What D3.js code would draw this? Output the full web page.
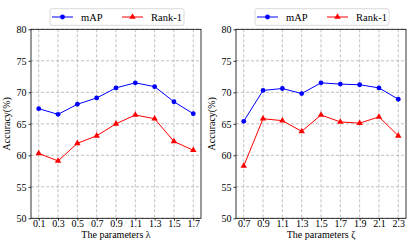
<!DOCTYPE html>
<html>
<head>
<meta charset="utf-8">
<style>
  body { margin: 0; background: #fff; }
  svg { display: block; }
  text { font-family: "Liberation Serif", "Times New Roman", serif; }
</style>
</head>
<body>
<svg width="415" height="245"></svg>
<script src="https://cdn.jsdelivr.net/npm/d3@7/dist/d3.min.js"></script>
<script>
// left panel: lambda
var lambdaTicks = ["0.1", "0.3", "0.5", "0.7", "0.9", "1.1", "1.3", "1.5", "1.7"];
var lambdaMAP = [67.4, 66.5, 68.1, 69.1, 70.7, 71.5, 70.9, 68.5, 66.6];
var lambdaRank1 = [60.3, 59.1, 61.9, 63.1, 65.0, 66.4, 65.8, 62.2, 60.8];

// right panel: zeta
var zetaTicks = ["0.7", "0.9", "1.1", "1.3", "1.5", "1.7", "1.9", "2.1", "2.3"];
var zetaMAP = [65.4, 70.3, 70.6, 69.8, 71.5, 71.3, 71.2, 70.7, 68.9];
var zetaRank1 = [58.3, 65.8, 65.5, 63.8, 66.4, 65.3, 65.1, 66.1, 63.1];

var yTicks = [50, 55, 60, 65, 70, 75, 80];

var svg = d3.select("svg");

function panel(x0, x1, ticks, mapVals, rankVals, xlabel) {
    var top = 29.3, bottom = 218.3;
    var g = svg.append("g");
    var n = ticks.length;
    var pad = (n - 1) * 0.05;
    var x = d3.scaleLinear().domain([-pad, n - 1 + pad]).range([x0, x1]);
    var y = d3.scaleLinear().domain([50, 80]).range([bottom, top]);

    // grid
    g.selectAll(".gx").data(ticks).enter().append("line")
        .attr("x1", function(d, i) { return x(i); })
        .attr("x2", function(d, i) { return x(i); })
        .attr("y1", top).attr("y2", bottom)
        .attr("stroke", "#b0b0b0").attr("stroke-width", 0.8)
        .attr("stroke-dasharray", "3,2");
    g.selectAll(".gy").data(yTicks).enter().append("line")
        .attr("x1", x0).attr("x2", x1)
        .attr("y1", function(d) { return y(d); })
        .attr("y2", function(d) { return y(d); })
        .attr("stroke", "#b0b0b0").attr("stroke-width", 0.8)
        .attr("stroke-dasharray", "3,2");

    // axes
    var xAxis = d3.axisBottom(x).tickValues(d3.range(n))
        .tickFormat(function(i) { return ticks[i]; }).tickSize(2.5).tickPadding(0);
    var yAxis = d3.axisLeft(y).tickValues(yTicks).tickSize(2.5).tickPadding(2);
    var ax = g.append("g").attr("transform", "translate(0," + bottom + ")").call(xAxis);
    var ay = g.append("g").attr("transform", "translate(" + x0 + ",0)").call(yAxis);
    [ax, ay].forEach(function(a) {
        a.select(".domain").remove();
        a.selectAll("text").attr("font-family", "Liberation Serif").attr("font-size", 10).attr("fill", "#000");
        a.selectAll("line").attr("stroke", "#000").attr("stroke-width", 0.8);
    });
    ax.selectAll("text").attr("dy", "0.6em");

    g.append("rect").attr("x", x0).attr("y", top)
        .attr("width", x1 - x0).attr("height", bottom - top)
        .attr("fill", "none").attr("stroke", "#000").attr("stroke-width", 0.8);

    var line = d3.line().x(function(d, i) { return x(i); }).y(function(d) { return y(d); });

    g.append("path").datum(mapVals).attr("d", line)
        .attr("fill", "none").attr("stroke", "#0000ff").attr("stroke-width", 1);
    g.selectAll(".pm").data(mapVals).enter().append("circle")
        .attr("cx", function(d, i) { return x(i); })
        .attr("cy", function(d) { return y(d); })
        .attr("r", 2.4).attr("fill", "#0000ff");

    g.append("path").datum(rankVals).attr("d", line)
        .attr("fill", "none").attr("stroke", "#ff0000").attr("stroke-width", 1);
    var tri = d3.symbol().type(d3.symbolTriangle).size(18);
    g.selectAll(".pr").data(rankVals).enter().append("path")
        .attr("d", tri)
        .attr("transform", function(d, i) { return "translate(" + x(i) + "," + y(d) + ")"; })
        .attr("fill", "#ff0000");

    // axis labels
    g.append("text").attr("x", (x0 + x1) / 2).attr("y", 238.2)
        .attr("text-anchor", "middle").attr("font-size", 10).text(xlabel);
    g.append("text")
        .attr("transform", "translate(" + (x0 - 21) + "," + ((top + bottom) / 2) + ") rotate(-90)")
        .attr("text-anchor", "middle").attr("font-size", 10).text("Accuracy(%)");

    // legend
    var lx = x0 + 19, ly = 8.7, lw = 134, lh = 16.6;
    var leg = g.append("g");
    leg.append("rect").attr("x", lx).attr("y", ly).attr("width", lw).attr("height", lh)
        .attr("rx", 2).attr("fill", "#fff").attr("stroke", "#d0d0d0").attr("stroke-width", 0.8);
    var cy = ly + lh / 2;
    leg.append("line").attr("x1", lx + 2).attr("x2", lx + 23).attr("y1", cy).attr("y2", cy)
        .attr("stroke", "#0000ff").attr("stroke-width", 1);
    leg.append("circle").attr("cx", lx + 12.5).attr("cy", cy).attr("r", 2.4).attr("fill", "#0000ff");
    leg.append("text").attr("x", lx + 31).attr("y", cy + 3.5).attr("font-size", 10.5).text("mAP");
    leg.append("line").attr("x1", lx + 72).attr("x2", lx + 93).attr("y1", cy).attr("y2", cy)
        .attr("stroke", "#ff0000").attr("stroke-width", 1);
    leg.append("path").attr("d", tri)
        .attr("transform", "translate(" + (lx + 82.5) + "," + cy + ")").attr("fill", "#ff0000");
    leg.append("text").attr("x", lx + 101).attr("y", cy + 3.5).attr("font-size", 10.5).text("Rank-1");
}

panel(31, 201, lambdaTicks, lambdaMAP, lambdaRank1, "The parameters λ");
panel(236, 406, zetaTicks, zetaMAP, zetaRank1, "The parameters ζ");
</script>
</body>
</html>
